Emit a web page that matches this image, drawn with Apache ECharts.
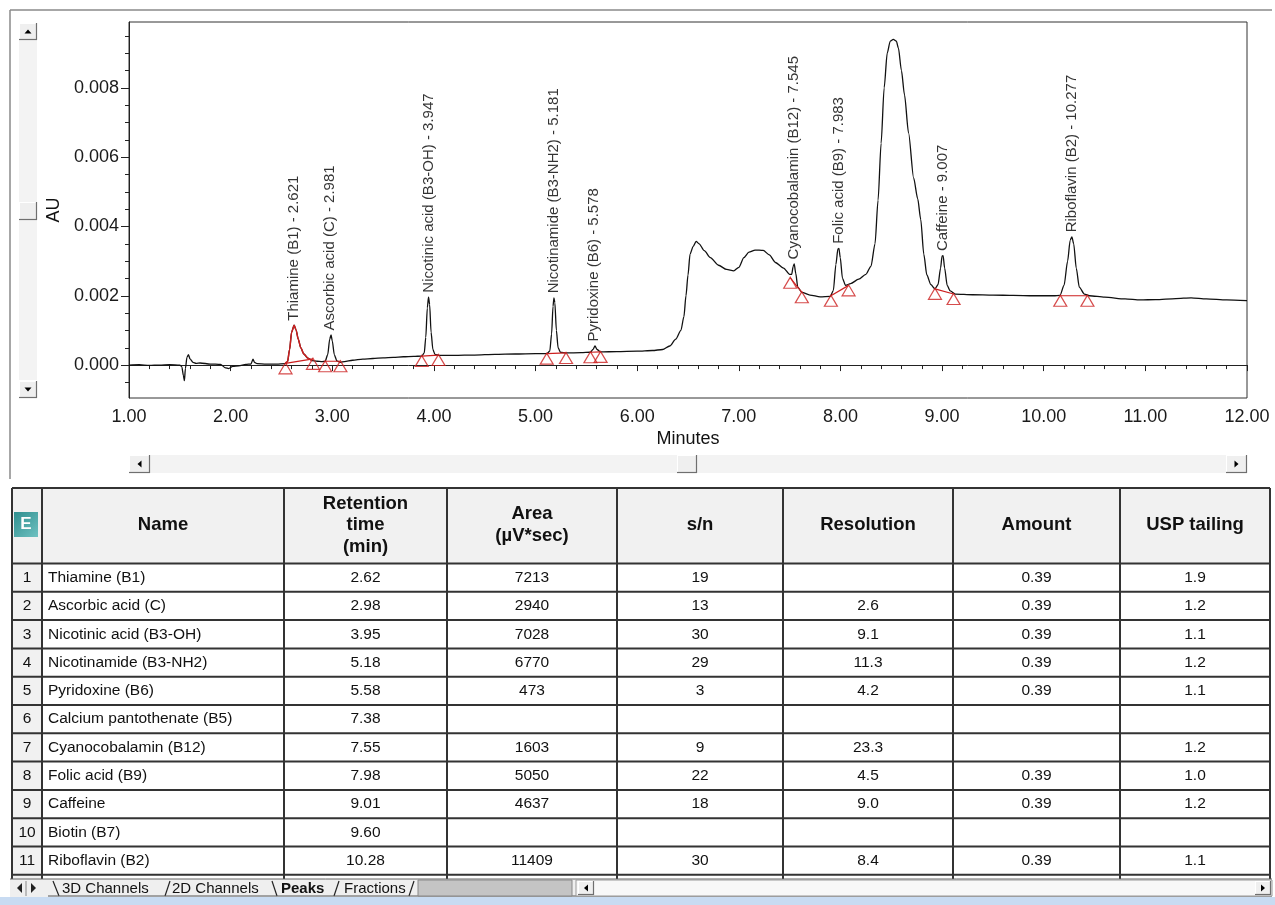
<!DOCTYPE html>
<html><head><meta charset="utf-8">
<script src="https://cdn.jsdelivr.net/npm/echarts@6/dist/echarts.min.js"></script>
<style>html,body{margin:0;padding:0;background:#fff;}#c{width:1275px;height:905px;}</style>
</head><body><div id="c"></div>
<script>
// ---- Chromatogram trace: [minutes, AU] ----
const trace = [
[1.00,0.00000],[1.10,0.00001],[1.20,-0.00001],[1.30,0.00000],[1.40,0.00001],[1.50,0.00000],
[1.52,-0.00005],[1.535,-0.00030],[1.545,-0.00045],[1.555,-0.00010],[1.57,0.00022],[1.585,0.00030],
[1.60,0.00018],[1.63,0.00008],[1.66,0.00005],[1.70,0.00006],[1.80,0.00003],[1.90,0.00002],
[1.95,-0.00008],[1.98,-0.00010],[2.02,-0.00004],[2.08,-0.00002],[2.15,0.00002],[2.20,0.00003],
[2.22,0.00017],[2.235,0.00008],[2.26,0.00004],[2.35,0.00003],[2.45,0.00003],[2.54,0.00004],
[2.56,0.00010],[2.58,0.00045],[2.60,0.00095],[2.625,0.00115],[2.645,0.00100],[2.665,0.00075],
[2.69,0.00050],[2.72,0.00032],[2.76,0.00020],[2.80,0.00013],[2.85,0.00011],[2.90,0.00010],
[2.93,0.00011],[2.955,0.00030],[2.975,0.00075],[2.988,0.00087],[3.00,0.00070],[3.02,0.00030],
[3.045,0.00012],[3.08,0.00008],[3.12,0.00010],[3.20,0.00014],[3.30,0.00017],[3.40,0.00019],
[3.50,0.00021],[3.60,0.00022],[3.70,0.00024],[3.80,0.00025],[3.88,0.00026],
[3.905,0.00035],[3.92,0.00080],[3.935,0.00165],[3.947,0.00196],[3.958,0.00175],[3.972,0.00095],
[3.99,0.00045],[4.01,0.00031],[4.05,0.00028],[4.20,0.00028],[4.40,0.00029],[4.60,0.00031],
[4.80,0.00032],[5.00,0.00033],[5.11,0.00033],
[5.14,0.00040],[5.158,0.00090],[5.172,0.00170],[5.181,0.00194],[5.19,0.00180],[5.205,0.00100],
[5.222,0.00050],[5.245,0.00037],[5.30,0.00035],[5.45,0.00036],[5.54,0.00037],
[5.565,0.00045],[5.585,0.00055],[5.605,0.00045],[5.64,0.00038],[5.80,0.00039],[6.00,0.00040],
[6.15,0.00042],[6.25,0.00045],[6.32,0.00055],[6.38,0.00075],[6.43,0.00100],[6.46,0.00140],
[6.48,0.00200],[6.50,0.00260],[6.52,0.00320],[6.55,0.00342],[6.58,0.00357],[6.61,0.00350],
[6.66,0.00330],[6.72,0.00310],[6.80,0.00288],[6.88,0.00276],[6.95,0.00272],[7.00,0.00282],
[7.05,0.00310],[7.10,0.00326],[7.16,0.00332],[7.24,0.00331],[7.30,0.00318],[7.36,0.00296],
[7.44,0.00280],[7.50,0.00262],[7.52,0.00262],[7.535,0.00285],[7.545,0.00292],[7.56,0.00265],
[7.58,0.00225],[7.62,0.00210],[7.70,0.00202],[7.80,0.00197],[7.90,0.00198],
[7.93,0.00215],[7.955,0.00290],[7.975,0.00335],[7.985,0.00337],[7.998,0.00310],[8.02,0.00250],
[8.05,0.00230],[8.10,0.00235],[8.18,0.00248],[8.25,0.00262],[8.30,0.00285],[8.34,0.00350],
[8.37,0.00476],[8.40,0.00640],[8.43,0.00800],[8.46,0.00900],[8.49,0.00935],[8.52,0.00940],
[8.55,0.00935],[8.57,0.00915],[8.60,0.00850],[8.63,0.00780],[8.67,0.00670],[8.72,0.00540],
[8.76,0.00480],[8.79,0.00420],[8.82,0.00320],[8.85,0.00260],[8.89,0.00232],[8.93,0.00220],
[8.96,0.00232],[8.985,0.00280],[9.00,0.00315],[9.01,0.00316],[9.025,0.00280],[9.05,0.00230],
[9.08,0.00214],[9.13,0.00205],[9.30,0.00203],[9.50,0.00202],[9.70,0.00201],[9.90,0.00200],
[10.10,0.00200],[10.16,0.00201],
[10.20,0.00230],[10.235,0.00300],[10.26,0.00360],[10.277,0.00370],[10.295,0.00350],[10.32,0.00280],
[10.35,0.00225],[10.40,0.00205],[10.45,0.00200],[10.60,0.00196],[10.80,0.00191],[10.95,0.00188],
[11.10,0.00189],[11.30,0.00192],[11.45,0.00194],[11.60,0.00191],[11.80,0.00188],[12.00,0.00186]
];

// ---- Integrated peaks ----
const peakNames = ['Thiamine (B1)','Ascorbic acid (C)','Nicotinic acid (B3-OH)','Nicotinamide (B3-NH2)','Pyridoxine (B6)','Cyanocobalamin (B12)','Folic acid (B9)','Caffeine','Riboflavin (B2)'];
const peakRT = [2.621, 2.981, 3.947, 5.181, 5.578, 7.545, 7.983, 9.007, 10.277];
const peakTopAU = [0.00115, 0.00087, 0.00196, 0.00194, 0.00055, 0.00292, 0.00337, 0.00316, 0.00370];
const peakStart = [2.54, 2.93, 3.88, 5.11, 5.54, 7.506, 7.906, 8.93, 10.163];
const peakStartAU = [0.00005, 0.00011, 0.00026, 0.00033, 0.00037, 0.00252, 0.00200, 0.00220, 0.00200];
const peakEnd = [2.81, 3.08, 4.045, 5.30, 5.64, 7.62, 8.08, 9.113, 10.43];
const peakEndAU = [0.00018, 0.00011, 0.00029, 0.00035, 0.00038, 0.00210, 0.00230, 0.00205, 0.00200];

// ---- Axis ticks ----
const xTickLabels = [1,2,3,4,5,6,7,8,9,10,11,12];
const yTickLabels = [0, 0.002, 0.004, 0.006, 0.008];
const yMinorTicks = [-0.0005,0,0.0005,0.001,0.0015,0.002,0.0025,0.003,0.0035,0.004,0.0045,0.005,0.0055,0.006,0.0065,0.007,0.0075,0.008,0.0085,0.009,0.0095];

// ---- Peak table ----
const tableHeaders = ['Name','Retention\ntime\n(min)','Area\n(µV*sec)','s/n','Resolution','Amount','USP tailing'];
const tableNames = ['Thiamine (B1)','Ascorbic acid (C)','Nicotinic acid (B3-OH)','Nicotinamide (B3-NH2)','Pyridoxine (B6)','Calcium pantothenate (B5)','Cyanocobalamin (B12)','Folic acid (B9)','Caffeine','Biotin (B7)','Riboflavin (B2)'];
const tableRT = ['2.62','2.98','3.95','5.18','5.58','7.38','7.55','7.98','9.01','9.60','10.28'];
const tableArea = ['7213','2940','7028','6770','473','','1603','5050','4637','','11409'];
const tableSN = ['19','13','30','29','3','','9','22','18','','30'];
const tableRes = ['','2.6','9.1','11.3','4.2','','23.3','4.5','9.0','','8.4'];
const tableAmount = ['0.39','0.39','0.39','0.39','0.39','','','0.39','0.39','','0.39'];
const tableUSP = ['1.9','1.2','1.1','1.2','1.1','','1.2','1.0','1.2','','1.1'];
const tabLabels = ['3D Channels','2D Channels','Peaks','Fractions'];

const FONT = 'Liberation Sans, Arial, sans-serif';
const chart = echarts.init(document.getElementById('c'));

// --- graphic helpers (layout only) ---
const G = [];
function line(x1,y1,x2,y2,color,w){G.push({type:'line',shape:{x1,y1,x2,y2},style:{stroke:color,lineWidth:w},silent:true});}
function rect(x,y,w,h,fill,stroke,lw){G.push({type:'rect',shape:{x,y,width:w,height:h},style:{fill:fill,stroke:stroke||null,lineWidth:lw||0},silent:true});}
function text(x,y,t,opt){G.push({type:'text',x:x,y:y,style:Object.assign({text:t,fontFamily:FONT,fontSize:16,fill:'#111',align:'left',verticalAlign:'middle'},opt||{}),silent:true});}
function poly(pts,fill){G.push({type:'polygon',shape:{points:pts},style:{fill:fill},silent:true});}
function button(x,y,w,h,dir){
  rect(x,y,w,h,'#efefef');
  line(x,y+0.5,x+w,y+0.5,'#ffffff',1); line(x+0.5,y,x+0.5,y+h,'#ffffff',1);
  line(x,y+h-0.5,x+w,y+h-0.5,'#6f6f6f',1.2); line(x+w-0.5,y,x+w-0.5,y+h,'#6f6f6f',1.2);
  const cx=x+w/2, cy=y+h/2;
  if(dir==='up') poly([[cx-3.5,cy+2],[cx+3.5,cy+2],[cx,cy-2]],'#000');
  if(dir==='down') poly([[cx-3.5,cy-2],[cx+3.5,cy-2],[cx,cy+2]],'#000');
  if(dir==='left') poly([[cx+2,cy-3.5],[cx+2,cy+3.5],[cx-2,cy]],'#000');
  if(dir==='right') poly([[cx-2,cy-3.5],[cx-2,cy+3.5],[cx+2,cy]],'#000');
}

// panel frame
line(10,10,1272,10,'#8a8a8a',1.5);
line(10,10,10,479,'#8a8a8a',1.5);
// vertical scroll controls
rect(19,40,18,340,'#f3f3f3');
button(19,23,18,17,'up');
button(19,202,18,18,null);
button(19,381,18,17,'down');
// horizontal scroll bar
rect(150,455,1076,18,'#f3f3f3');
button(129,455,21,18,'left');
button(677,455,20,18,null);
button(1226,455,21,18,'right');

// ---- table ----
const colX = [12, 42, 284, 447, 617, 783, 953, 1120, 1270];
const tTop = 488, hBot = 563.5, rowH = 28.3, tBot = 879;
rect(colX[0], tTop, colX[8]-colX[0], hBot-tTop, '#f1f1f1');
for (let i=0;i<12;i++) rect(colX[0], hBot+i*rowH, colX[1]-colX[0], rowH, '#f1f1f1');
for (let i=0;i<tableNames.length;i++) rect(colX[1], hBot+i*rowH, colX[8]-colX[1], rowH, '#ffffff');
for (let i=0;i<=tableNames.length;i++) line(colX[0], hBot+i*rowH, colX[8], hBot+i*rowH, '#333', 2);
line(colX[0], tTop, colX[8], tTop, '#333', 2);
colX.forEach(x => line(x, tTop, x, tBot, '#333', 2));
// "E" icon
G.push({type:'rect',shape:{x:14,y:512,width:24,height:25},style:{fill:new echarts.graphic.LinearGradient(0,0,1,1,[{offset:0,color:'#2f8f8f'},{offset:1,color:'#6fc1c1'}])},silent:true});
text(26,524.5,'E',{fontSize:17,fontWeight:'bold',fill:'#ffffff',align:'center'});
// headers
tableHeaders.forEach((h,j)=>{
  text((colX[j+1]+colX[j+2])/2, 525, h, {fontSize:18.5,fontWeight:'bold',align:'center',lineHeight:21.5,fill:'#111'});
});
// rows
const cols = [tableRT, tableArea, tableSN, tableRes, tableAmount, tableUSP];
tableNames.forEach((n,i)=>{
  const cy = hBot + (i+0.5)*rowH;
  text((colX[0]+colX[1])/2, cy, String(i+1), {align:'center',fontSize:15.5});
  text(48, cy, n, {fontSize:15.5});
  cols.forEach((arr,k)=>{ if(arr[i]) text((colX[k+2]+colX[k+3])/2, cy, arr[i], {align:'center',fontSize:15.5}); });
});

// ---- bottom tab bar ----
rect(10,879,1262,18,'#efefef');
line(10,879,1272,879,'#666',1);
poly([[22,883],[22,893],[17,888]],'#222');
line(26,881,26,896,'#888',1);
poly([[31,883],[31,893],[36,888]],'#222');
const tabX = [62, 172, 281, 344];
tabLabels.forEach((t,i)=> text(tabX[i], 888.5, t, {fontSize:15, fontWeight: t==='Peaks'?'bold':'normal'}));
line(53,881,59,896,'#222',1.2);
line(170,881,165,896,'#222',1.2);
line(272,881,277,896,'#222',1.2);
line(339,881,334,896,'#222',1.2);
line(414,881,409,896,'#222',1.2);
line(48,896,1272,896,'#555',1);
rect(418,880,154,16,'#c4c4c4','#888',1);
rect(576,880,696,16,'#f8f8f8','#999',1);
button(578,881,16,14,'left');
button(1255,881,16,14,'right');
rect(0,897,1275,8,'#c8dbf2');

// ---- series ----
const series = [];
series.push({type:'line', data: trace, showSymbol:false, smooth:0.25, smoothMonotone:'x',
  lineStyle:{color:'#111', width:1.3}, z:3, silent:true});
series.push({type:'line', data: trace.filter(p=>p[0]>=peakStart[0] && p[0]<=peakEnd[0]-0.005), showSymbol:false, smooth:0.25, smoothMonotone:'x',
  lineStyle:{color:'#cc1f1f', width:1.5}, z:4, silent:true});
peakNames.forEach((n,i)=>{
  series.push({type:'line', data:[[peakStart[i],peakStartAU[i]],[peakEnd[i],peakEndAU[i]]], showSymbol:false,
    lineStyle:{color:'#cc1f1f', width:1.2}, z:4, silent:true});
});
const triData = [];
peakNames.forEach((n,i)=>{ triData.push([peakStart[i],peakStartAU[i]]); triData.push([peakEnd[i],peakEndAU[i]]); });
series.push({type:'scatter', data: triData, symbol:'triangle', symbolSize:[13,11], symbolOffset:[0,5],
  itemStyle:{color:'rgba(255,255,255,0)', borderColor:'#cc1f1f', borderWidth:1.2}, z:5, silent:true});
series.push({type:'scatter', data: peakNames.map((n,i)=>({value:[peakRT[i],peakTopAU[i]], name:n})),
  symbolSize:1, itemStyle:{color:'rgba(0,0,0,0)'}, z:6, silent:true,
  label:{show:true, position:'top', distance:4, rotate:90, align:'left', verticalAlign:'middle',
    fontFamily:FONT, fontSize:15, color:'#000',
    formatter: p => p.name + ' - ' + peakRT[p.dataIndex].toFixed(3)}});

chart.setOption({
  animation:false,
  backgroundColor:'#ffffff',
  textStyle:{fontFamily:FONT},
  grid:{left:129, top:22, width:1118, height:376, show:true, borderColor:'#333', borderWidth:1, backgroundColor:'rgba(0,0,0,0)'},
  xAxis:{type:'value', min:xTickLabels[0], max:xTickLabels[xTickLabels.length-1], interval:1,
    name:'Minutes', nameLocation:'middle', nameGap:32, nameTextStyle:{fontSize:18, color:'#111', fontFamily:FONT},
    axisLine:{lineStyle:{color:'#222', width:1}}, axisTick:{length:6, lineStyle:{color:'#222'}},
    minorTick:{show:true, splitNumber:5, length:4, lineStyle:{color:'#222'}},
    axisLabel:{fontSize:18, color:'#1a1a1a', margin:10, fontFamily:FONT, formatter: v => v.toFixed(2)},
    splitLine:{show:false}},
  yAxis:[
    {type:'value', min:-0.00095, max:0.0099, name:'AU', nameLocation:'middle', nameGap:61, nameRotate:90,
      nameTextStyle:{fontSize:18, color:'#111', fontFamily:FONT},
      axisLine:{show:true, lineStyle:{color:'#222'}},
      axisTick:{show:true, length:4, customValues:yMinorTicks, lineStyle:{color:'#222'}},
      axisLabel:{customValues:yTickLabels, fontSize:18, color:'#1a1a1a', margin:10, fontFamily:FONT, formatter: v => v.toFixed(3)},
      splitLine:{show:false}},
    {type:'value', min:-0.00095, max:0.0099, position:'left',
      axisLine:{show:false}, axisTick:{show:true, length:8, customValues:yTickLabels, lineStyle:{color:'#222'}},
      axisLabel:{show:false}, splitLine:{show:false}}
  ],
  series: series,
  graphic: G
});
</script></body></html>
